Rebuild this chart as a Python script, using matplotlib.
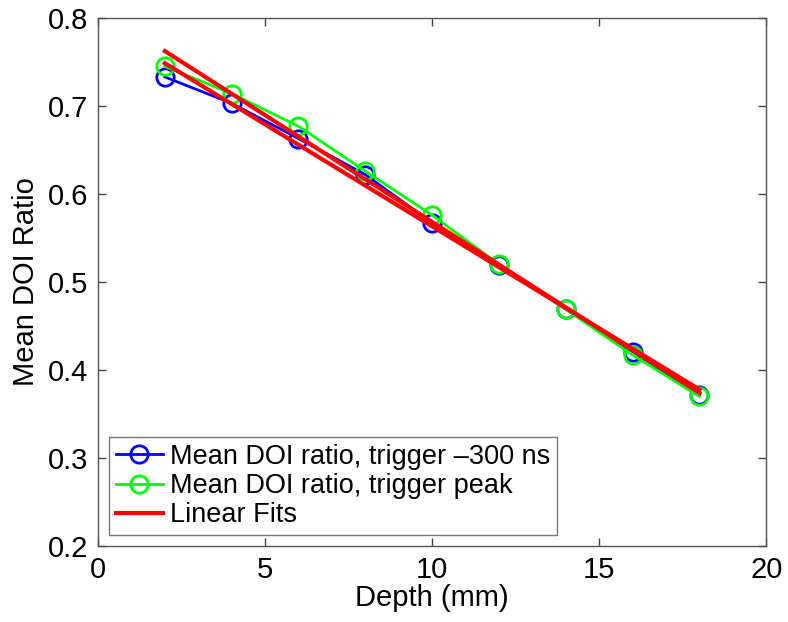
import numpy as np
import matplotlib
matplotlib.use("Agg")
import matplotlib.pyplot as plt

plt.rcParams['font.family'] = ['Liberation Sans', 'DejaVu Sans']

depth = [2, 4, 6, 8, 10, 12, 14, 16, 18]
doi_300ns = [0.733, 0.703, 0.663, 0.622, 0.567, 0.519, 0.469, 0.421, 0.372]
doi_peak = [0.745, 0.714, 0.677, 0.626, 0.576, 0.520, 0.469, 0.417, 0.370]

x = np.array(depth)
fit_300 = np.polyfit(x, doi_300ns, 1)
fit_peak = np.polyfit(x, doi_peak, 1)

fig = plt.figure(figsize=(7.88, 6.22), dpi=100)
ax = fig.add_axes([0.1244, 0.1222, 0.848, 0.8489])

ax.plot(x, doi_300ns, color='#0000ff', lw=2, marker='o', ms=12.5, mfc='none',
        mew=2, label='Mean DOI ratio, trigger \u2013300 ns')
ax.plot(x, doi_peak, color='#00ff00', lw=2, marker='o', ms=12.5, mfc='none',
        mew=2, label='Mean DOI ratio, trigger peak')
ax.plot(x, np.polyval(fit_300, x), color='#ff0000', lw=3, label='Linear Fits')
ax.plot(x, np.polyval(fit_peak, x), color='#ff0000', lw=3)

ax.set_xlim(0, 20)
ax.set_ylim(0.2, 0.8)
ax.set_xticks([0, 5, 10, 15, 20])
ax.set_yticks([0.2, 0.3, 0.4, 0.5, 0.6, 0.7, 0.8])
ax.set_yticklabels(['0.2', '0.3', '0.4', '0.5', '0.6', '0.7', '0.8'])
ax.tick_params(direction='in', length=6, width=1, top=True, right=True,
               labelsize=21, color='#444444', pad=7)
for s in ax.spines.values():
    s.set_color('#555555')
    s.set_linewidth(1)

ax.set_xlabel('Depth (mm)', fontsize=21, labelpad=0)
ax.set_ylabel('Mean DOI Ratio', fontsize=21, labelpad=6)

leg = ax.legend(loc='lower left', fontsize=19.5, frameon=True, fancybox=False,
                edgecolor='#555555', handlelength=1.75, handletextpad=0.25,
                borderaxespad=0.4, borderpad=0.25, labelspacing=0.12)
leg.get_frame().set_linewidth(1)

fig.savefig('out.png', dpi=100)
